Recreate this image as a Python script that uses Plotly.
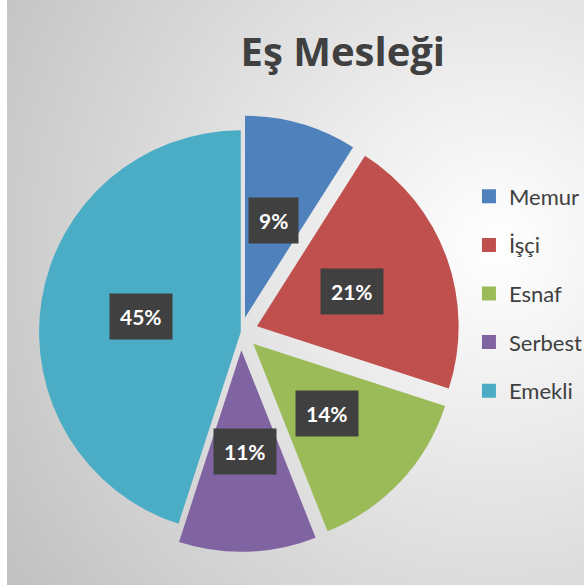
import base64, math
import plotly.graph_objects as go

labels = ["Memur", "İşçi", "Esnaf", "Serbest", "Emekli"]
values = [9, 21, 14, 11, 45]
colors = ["#4F81BD", "#C0504D", "#9BBB59", "#8064A2", "#4BACC6"]
pulls = [0.075, 0.085, 0.085, 0.09, 0.0]
title_text = "Eş Mesleği"

W, H = 587, 585
dom_x = [0.0358, 0.7888]
dom_y = [0.0547, 0.8103]

svg = ("<svg xmlns='http://www.w3.org/2000/svg' width='580' height='585'>"
       "<defs><radialGradient id='g' cx='0.85' cy='0.42' r='1.0'>"
       "<stop offset='0' stop-color='#ffffff'/><stop offset='1' stop-color='#c2c2c2'/>"
       "</radialGradient></defs><rect width='580' height='585' fill='url(#g)'/></svg>")
bg = "data:image/svg+xml;base64," + base64.b64encode(svg.encode()).decode()

fig = go.Figure()
fig.add_trace(go.Pie(
    labels=labels, values=values, sort=False, direction="clockwise", rotation=0,
    marker=dict(colors=colors, line=dict(width=0)), pull=pulls,
    textinfo="none", hoverinfo="label+percent", showlegend=False,
    domain=dict(x=dom_x, y=dom_y),
))

# legend via proxy traces
for lab, col in zip(labels, colors):
    fig.add_trace(go.Scatter(x=[None], y=[None], mode="markers", name=lab,
                             legendgroup=lab,
                             marker=dict(symbol="square", size=14, color=col)))

# label boxes
size_px = (dom_x[1] - dom_x[0]) * W
maxpull = max(pulls)
R = size_px / (2 + 2 * maxpull)
cx = (dom_x[0] + dom_x[1]) / 2 * W
cy = H - (dom_y[0] + dom_y[1]) / 2 * H
total = sum(values)
cum = 0
annotations = []
for v, p in zip(values, pulls):
    mid = (cum + v / 2) / total * 2 * math.pi
    cum += v
    dist = 0.5 * R + p * R
    px = cx + dist * math.sin(mid)
    py = cy - dist * math.cos(mid)
    txt = f"{round(v / total * 100)}%"
    annotations.append(dict(text=txt, bgcolor="#404040",
                            x=px / W, y=1 - py / H, xref="paper", yref="paper",
                            xanchor="center", yanchor="middle",
                            showarrow=False, borderpad=10,
                            font=dict(size=21, color="white", family="Lato", weight="bold")))

fig.update_layout(
    width=W, height=H,
    margin=dict(l=0, r=0, t=0, b=0),
    paper_bgcolor="white", plot_bgcolor="rgba(0,0,0,0)",
    title=dict(text=title_text, x=0.584, y=0.911, xanchor="center", yanchor="middle",
               font=dict(size=40, color="#404040", family="Open Sans", weight="bold")),
    xaxis=dict(visible=False), yaxis=dict(visible=False),
    legend=dict(x=0.803, y=0.70, xanchor="left", yanchor="top",
                bgcolor="rgba(0,0,0,0)", tracegroupgap=17,
                font=dict(size=22, color="#404040", family="Lato")),
    annotations=annotations,
    images=[dict(source=bg, xref="paper", yref="paper", x=7 / W, y=1, sizex=1 - 7 / W, sizey=1,
                 xanchor="left", yanchor="top", sizing="stretch", layer="below")],
)

fig.write_html("out.html", post_script="document.body.style.margin='0';",
               config={"displayModeBar": False})
